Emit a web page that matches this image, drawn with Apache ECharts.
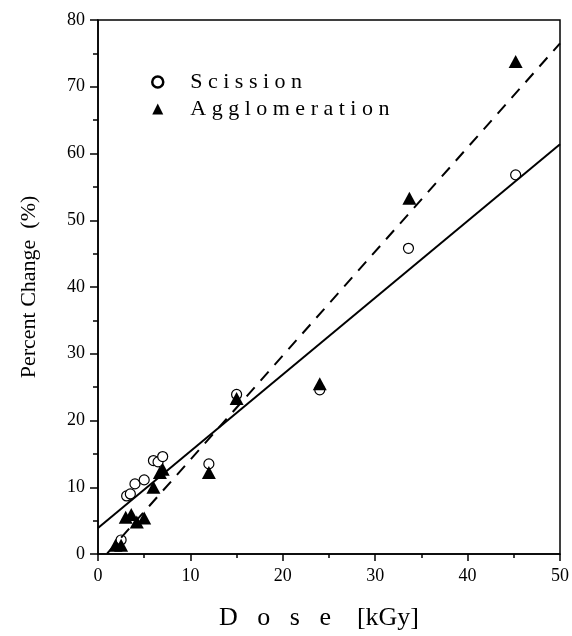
<!DOCTYPE html>
<html>
<head>
<meta charset="utf-8">
<script src="https://cdn.jsdelivr.net/npm/echarts@6/dist/echarts.min.js"></script>
<style>
  html, body { margin: 0; padding: 0; background: #fff; }
  #main { width: 572px; height: 636px; }
</style>
</head>
<body>
<div id="main"></div>
<script>
// 数据
var scission = [
  [2.5, 2.1], [3.1, 8.7], [3.5, 9.0], [4.0, 10.5], [5.0, 11.1],
  [6.0, 14.0], [6.5, 13.8], [7.0, 14.6], [12.0, 13.5], [15.0, 23.9],
  [24.0, 24.6], [33.6, 45.8], [45.2, 56.8]
];
var agglomeration = [
  [1.9, 1.3], [2.5, 1.3], [3.0, 5.5], [3.6, 5.9], [4.2, 4.8],
  [5.0, 5.4], [6.0, 10.0], [6.7, 12.2], [7.0, 12.7], [12.0, 12.2],
  [15.0, 23.3], [24.0, 25.5], [33.7, 53.3], [45.2, 73.8]
];
var fitSolid = [[0, 3.9], [50, 61.4]];
var fitDashed = [[1.0, 0.1], [50, 76.5]];

var serif = 'Liberation Serif';

// 字母间加空格
function spaced(s) {
  return s.split('').join(' ');
}

var myChart = echarts.init(document.getElementById('main'));

var option = {
  backgroundColor: '#fff',
  animation: false,
  grid: {
    left: 98, right: 11, top: 20, bottom: 77,
    show: true, borderColor: '#000', borderWidth: 1.5
  },
  legend: {
    orient: 'vertical',
    left: 146, top: 66,
    itemWidth: 11, itemHeight: 11,
    itemGap: 5,
    textStyle: { fontFamily: serif, fontSize: 22, color: '#000' },
    formatter: function (name) { return '    ' + spaced(name); },
    data: [
      { name: 'Scission', icon: 'circle', itemStyle: { color: '#fff', borderColor: '#000', borderWidth: 2.5 } },
      { name: 'Agglomeration', icon: 'triangle', itemStyle: { color: '#000' } }
    ]
  },
  xAxis: {
    type: 'value',
    min: 0, max: 50, interval: 10,
    name: 'D   o   s   e    [kGy]',
    nameLocation: 'middle',
    nameGap: 51,
    nameTextStyle: { fontFamily: serif, fontSize: 26, color: '#000', padding: [0, 20, 0, 0] },
    axisLine: { lineStyle: { color: '#000', width: 1.5 } },
    axisTick: { inside: false, length: 7, lineStyle: { color: '#000', width: 1.5 } },
    minorTick: { show: true, splitNumber: 2, length: 4, lineStyle: { color: '#000', width: 1.5 } },
    axisLabel: { fontFamily: serif, fontSize: 18, color: '#000', margin: 13 },
    splitLine: { show: false }
  },
  yAxis: {
    type: 'value',
    min: 0, max: 80, interval: 10,
    name: 'Percent Change  (%)',
    nameLocation: 'middle',
    nameGap: 58,
    nameTextStyle: { fontFamily: serif, fontSize: 22, color: '#000' },
    axisLine: { lineStyle: { color: '#000', width: 1.5 } },
    axisTick: { inside: false, length: 8, lineStyle: { color: '#000', width: 1.5 } },
    minorTick: { show: true, splitNumber: 2, length: 5, lineStyle: { color: '#000', width: 1.5 } },
    axisLabel: { fontFamily: serif, fontSize: 18, color: '#000', margin: 13 },
    splitLine: { show: false }
  },
  series: [
    {
      name: 'fitSolid', type: 'line', data: fitSolid,
      symbol: 'none', silent: true,
      lineStyle: { color: '#000', width: 2, type: 'solid' }
    },
    {
      name: 'fitDashed', type: 'line', data: fitDashed,
      symbol: 'none', silent: true,
      lineStyle: { color: '#000', width: 2, type: [12, 9] }
    },
    {
      name: 'Scission', type: 'scatter', data: scission,
      symbol: 'circle', symbolSize: 10,
      itemStyle: { color: '#fff', borderColor: '#000', borderWidth: 1.2, opacity: 1 }
    },
    {
      name: 'Agglomeration', type: 'scatter', data: agglomeration,
      symbol: 'triangle', symbolSize: [14, 13],
      itemStyle: { color: '#000', opacity: 1 }
    }
  ]
};

myChart.setOption(option);
</script>
</body>
</html>
